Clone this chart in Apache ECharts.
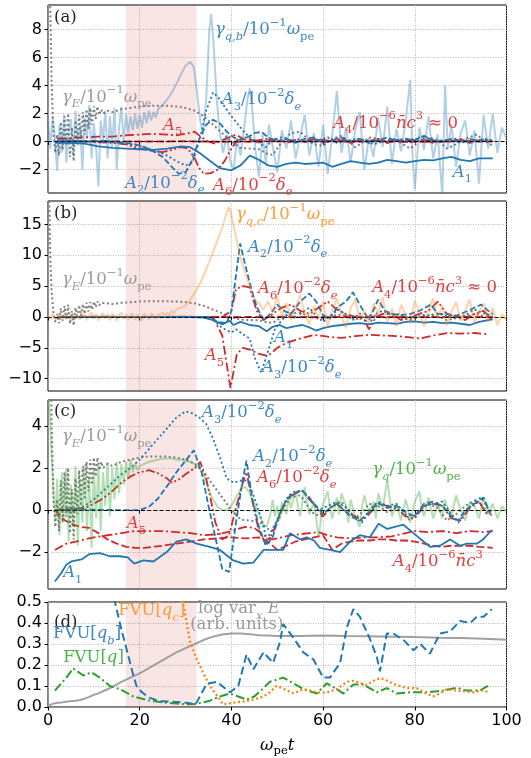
<!DOCTYPE html>
<html>
<head>
<meta charset="utf-8">
<script src="https://cdn.jsdelivr.net/npm/echarts@6/dist/echarts.min.js"></script>
<style>
html,body{margin:0;padding:0;background:#fff;}
#chart{width:531px;height:758px;}
</style>
</head>
<body>
<div id="chart"></div>
<script>
// ---------- shared ----------
const shadeStart = 17, shadeEnd = 32.4;
const xTicks = [0, 20, 40, 60, 80, 100];
const yTicksA = [-2, 0, 2, 4, 6, 8];
const yTicksB = [-10, -5, 0, 5, 10, 15];
const yTicksC = [-2, 0, 2, 4];
const yTicksD = [0, 0.1, 0.2, 0.3, 0.4, 0.5];

// gamma_E / 10^-1 w_pe (same curve in panels a, b, c)
const gammaE = [[0.1,30],[0.3,18],[0.5,9.5],[0.8,4],[1.2,0.5],[1.6,-0.8],[2,0.5],[2.4,-1.0],[2.8,1.4],[3.2,-0.6],[3.6,1.8],[4,-0.3],[4.4,2.0],[4.8,-1.1],[5.2,1.0],[5.6,-1.4],[6,1.5],[6.4,-0.2],[6.8,1.9],[7.2,0.2],[7.6,2.1],[8,0.5],[8.4,2.3],[8.8,0.9],[9.2,2.4],[9.6,1.2],[10,2.5],[10.4,1.6],[10.8,2.5],[11.2,1.9],[11.6,2.3],[12,2.0],[13,2.2],[14,2.1],[15,2.2],[16,2.3],[18,2.4],[20,2.5],[22,2.55],[24,2.55],[26,2.55],[28,2.5],[30,2.4],[32,2.2],[34,1.8],[36,1.2],[38,0.6],[40,0.0],[42,-0.45],[44,-0.5],[46,-0.55],[48,-0.9],[49,-0.95],[50,-0.5],[51,0.0],[53,0.6],[55,0.7],[57,0.1],[58,-0.2],[60,-0.3],[62,0.2],[64,0.4],[66,-0.1],[67,-0.4],[69,0.0],[70,0.3],[72,0.2],[74,-0.1],[76,0.1],[78,-0.3],[79,-0.5],[81,0.0],[83,0.3],[85,0.1],[87,-0.5],[89,-0.2],[91,0.2],[93.5,0.5],[95,0.1],[97,-0.3]];

// ---------- panel (a) ----------
const a_gammaQB = [[0,1.5],[0.5,-0.5],[1,1.8],[1.5,0.3],[2,-2.1],[2.5,1.2],[3,-0.8],[3.5,1.9],[4,-1.5],[4.5,0.8],[5,1.6],[5.5,-1.0],[6,2.2],[6.5,-0.3],[7,1.1],[7.5,-2.0],[8,1.7],[8.5,0.2],[9,2.6],[9.5,-1.2],[10,1.3],[10.5,-0.5],[11,-3.2],[11.5,1.5],[12,0.1],[12.5,2.2],[13,-1.2],[13.5,1.8],[14,-0.4],[14.5,2.4],[15,-2.0],[15.5,1.0],[16,2.5],[16.5,-0.2],[17,2.0],[17.5,0.6],[18,1.8],[18.5,0.8],[19,2.0],[19.5,0.9],[20,1.9],[20.5,1.0],[21,2.1],[21.5,1.3],[22,2.2],[22.5,1.5],[23,2.1],[23.5,1.7],[24,2.3],[25,2.6],[26,3.0],[27,3.5],[28,4.1],[29,4.8],[30,5.4],[31,5.7],[31.8,5.3],[32.5,3.5],[33.2,1.5],[33.8,0.5],[34.5,3.0],[35.2,8.0],[35.6,9.1],[36.2,6.5],[36.8,3.0],[37.5,0.5],[38.2,-0.8],[39,0.5],[39.8,-1.5],[40.5,-2.0],[41.2,0.2],[42,-1.0],[42.8,1.0],[43.5,3.0],[44,3.8],[44.5,2.5],[45.2,-0.5],[46,-2.5],[46.8,0.5],[47.5,-1.5],[48.2,1.2],[49,-0.3],[50,-2.2],[51,0.8],[52,-0.5],[53,1.5],[54,-1.2],[55,0.4],[56,1.9],[57,-1.0],[58,0.6],[59,-1.8],[60,1.2],[61,-2.3],[62,0.5],[63,3.6],[64,-0.8],[65,1.0],[66,-1.5],[67,0.8],[68,2.1],[69,-2.0],[70,0.3],[71,-1.1],[72,1.7],[73,-0.4],[74,2.5],[75,-1.6],[76,0.9],[77,-0.7],[78,1.4],[79,4.4],[79.5,-1.0],[80,-3.4],[81,1.0],[82,-0.6],[83,1.8],[84,-1.2],[85,0.5],[86,-3.9],[86.6,4.0],[87.2,-0.5],[88,1.2],[89,-1.8],[90,0.6],[91,1.5],[92,-1.0],[93,0.8],[94,-3.0],[95,1.9],[96,-0.5],[97,2.0],[98,-0.8],[99,1.0],[100,0.2]];
const a_A1 = [[1.5,-0.1],[4,-0.1],[8,-0.15],[11,-0.35],[14,-0.45],[17,-0.5],[20,-0.55],[23,-0.6],[26,-0.5],[29,-0.35],[31,-0.4],[33,-0.8],[35,-1.3],[37.5,-1.9],[40,-2.05],[42,-1.7],[44,-1.0],[46,-1.3],[48,-1.7],[50,-1.8],[52,-1.6],[54,-1.5],[56,-1.6],[58,-1.55],[60,-1.5],[62,-1.8],[64,-1.6],[66,-1.4],[68,-1.5],[70,-1.6],[72,-1.5],[74,-1.3],[76,-1.4],[78,-1.5],[80,-1.4],[82,-1.3],[84,-1.35],[86,-1.2],[88,-1.1],[90,-1.3],[92,-1.4],[94,-1.2],[97,-1.2]];
const a_A2 = [[2,0],[5,0.05],[8,0],[11,0.05],[14,0],[17,-0.1],[19,-0.2],[21,-0.4],[23,-0.7],[25,-1.1],[27,-1.8],[28.5,-2.3],[30,-2.2],[31.5,-1.3],[33,0.2],[34.5,1.2],[36,1.55],[37.5,1.3],[39,0.7],[40.5,0.3],[42,0.1],[43.5,0.3],[45,0.6],[46.5,0.7],[48,0.3],[50,0.0],[52,0.2],[54,-0.1],[56,0.2],[58,0.3],[60,-0.1],[62,0.1],[64,0.3],[66,0.0],[68,0.2],[70,-0.1],[72,0.1],[74,0.3],[76,0.0],[78,0.2],[80,0.1],[82,0.4],[84,0.1],[86,0.0],[88,0.2],[90,-0.1],[92,0.2],[94,0.0],[96,0.1]];
const a_A3 = [[2,0],[5,-0.05],[8,0.05],[11,0],[14,-0.05],[17,-0.15],[20,-0.3],[23,-0.6],[26,-1.0],[28,-1.4],[30,-1.7],[31.5,-1.5],[33,0.0],[34.5,2.2],[36,3.5],[37,3.2],[38.5,2.5],[40,1.8],[41.5,1.2],[43,0.6],[44.5,0.2],[46,-0.1],[47.5,-0.4],[49,0.1],[51,0.3],[53,0.0],[55,0.2],[57,-0.1],[59,0.1],[61,0.3],[63,-0.1],[65,0.0],[67,0.2],[69,0.1],[71,-0.2],[73,0.0],[75,0.2],[77,0.1],[79,-0.1],[81,0.3],[83,0.2],[85,0.0],[87,0.1],[89,0.2],[91,-0.1],[93,0.0],[95,0.2],[97,0.1]];
const a_A4 = [[2,0],[10,0.02],[20,0],[30,0.02],[40,-0.02],[50,0.02],[60,0],[70,0.02],[80,-0.02],[90,0.02],[97,0]];
const a_A5 = [[2,0.2],[5,0.25],[8,0.3],[11,0.35],[14,0.35],[17,0.45],[20,0.5],[23,0.55],[26,0.5],[28,0.45],[30,0.55],[32,0.7],[33.5,0.3],[35,0.0],[36.5,-0.15],[38,0.1],[39.5,0.3],[41,0.5],[42.5,0.2],[44,0.0],[46,0.1],[48,0.2],[50,0.0],[53,0.1],[56,0.0],[59,0.15],[62,0.05],[65,0.1],[68,0.0],[71,0.1],[74,0.05],[77,0.15],[80,0.05],[83,0.1],[86,0.0],[89,0.1],[92,0.05],[95,0.1],[97,0.05]];
const a_A6 = [[2,0],[5,0.05],[8,0],[11,-0.05],[14,-0.1],[17,-0.2],[19,-0.4],[21,-0.55],[23,-0.7],[25,-0.75],[27,-0.6],[29,-0.4],[30.5,-0.5],[32,-1.2],[33,-1.9],[34,-2.3],[35.5,-2.25],[37,-2.0],[38.5,-1.4],[40,-0.5],[41.5,0.2],[43,0.3],[44.5,0.1],[46,-0.1],[48,0.1],[50,0.2],[52,-0.1],[54,0.1],[56,0.0],[58,0.2],[60,-0.1],[62,0.1],[64,0.2],[66,-0.1],[68,0.1],[70,0.0],[72,0.2],[74,-0.1],[76,0.1],[78,0.0],[80,0.2],[82,0.1],[84,-0.1],[86,0.1],[88,0.0],[90,0.2],[92,-0.1],[94,0.1],[96,0.0]];

// ---------- panel (b) ----------
const b_gammaQC = [[0,0.3],[0.5,-0.3],[1,0.5],[1.5,-0.4],[2,0.2],[2.5,0.6],[3,-0.5],[3.5,0.3],[4,0.7],[4.5,-0.2],[5,0.4],[5.5,-0.6],[6,0.5],[6.5,0.1],[7,-0.4],[7.5,0.6],[8,0.2],[8.5,-0.5],[9,0.4],[9.5,0.7],[10,-0.3],[10.5,0.5],[11,-0.6],[11.5,0.3],[12,0.6],[12.5,-0.2],[13,0.4],[13.5,-0.5],[14,0.6],[14.5,0.1],[15,-0.6],[15.5,0.4],[16,0.7],[16.5,-0.3],[17,0.5],[17.5,-0.4],[18,0.3],[18.5,0.6],[19,-0.5],[19.5,0.4],[20,0.1],[20.5,-0.6],[21,0.5],[21.5,0.2],[22,-0.4],[22.5,0.6],[23,0.3],[23.5,-0.3],[24,0.5],[24.5,0.2],[25,0.8],[25.5,0.1],[26,0.7],[26.5,0.4],[27,1.0],[27.5,0.6],[28,1.2],[29,1.5],[30,1.8],[31,2.8],[32,3.9],[33,5.2],[34,6.8],[35,8.7],[36,10.5],[37,12.5],[38,14.5],[39,17.0],[39.5,17.8],[40,16.5],[41,13.0],[42,9.5],[43,7.2],[44,5.0],[45,3.0],[46,2.2],[47,1.2],[48,2.5],[49,0.8],[50,3.3],[51,0.2],[52,2.3],[53,-0.5],[54,1.5],[55,3.6],[56,0.5],[57,-1.2],[58,1.8],[59,-0.3],[60,2.5],[61,-1.5],[62,1.2],[63,3.0],[64,0.2],[65,-1.8],[66,1.5],[67,2.8],[68,-0.5],[69,1.0],[70,-1.2],[71,2.2],[72,0.5],[73,3.2],[74,-0.8],[75,1.4],[76,-1.5],[77,2.0],[78,0.3],[79,-1.0],[80,2.6],[81,0.8],[82,-1.6],[83,1.2],[84,3.0],[85,-0.2],[86,1.8],[87,-1.4],[88,0.9],[89,2.4],[90,-0.6],[91,1.1],[92,2.9],[93,-1.0],[94,0.7],[95,2.2],[96,-0.8],[97,1.5],[98,-1.3],[99,0.4],[100,-0.5]];
const b_A1 = [[2,0],[10,0],[20,0],[30,0],[34,-0.1],[36,-0.5],[38,-1.2],[39.6,-0.6],[40.4,-1.3],[42,-0.8],[44,-1.3],[46,-1.5],[47.7,-2.3],[49,-1.6],[50.5,-1.3],[52,-1.8],[54,-1.5],[55.5,-1.3],[57,-1.7],[58.5,-2.2],[60,-1.8],[62,-1.5],[64,-1.3],[66,-1.1],[68,-1.0],[70,-1.2],[72,-0.9],[74,-1.0],[76,-1.1],[78,-0.8],[80,-0.7],[82,-0.9],[84,-0.8],[86,-1.0],[88,-0.9],[90,-1.1],[92,-1.3],[94,-0.8],[96,-0.5],[97,-0.4]];
const b_A2 = [[2,0],[10,0],[20,0],[30,0],[35,0],[37,-0.8],[39,-1.0],[40,1.0],[41.9,11.9],[43,8.5],[44,5.5],[45.5,1.7],[47,-0.5],[48.5,0.5],[50,2.0],[51.5,1.0],[53,0.5],[55,2.5],[57,3.8],[58.5,2.5],[60,0.3],[61.5,-0.3],[63,1.5],[65,2.5],[66.5,4.0],[68,2.0],[70,-0.5],[72,2.8],[73.5,1.0],[75,0.5],[77,0.3],[79,0.5],[81,1.0],[83.5,2.0],[85,0.5],[87,0.5],[89,0.2],[91,0.8],[93,1.5],[94.5,2.0],[96,1.0],[97,0.5]];
const b_A3 = [[2,0],[20,0],[34,0],[36,-0.5],[38,-1.8],[40,-2.5],[41,-2.0],[42.5,-2.8],[44,-3.5],[45,-6.5],[46.5,-9.0],[48,-5.5],[49.5,-2.0],[51,-0.5],[52.5,0.5],[54,-0.3],[55.5,0.8],[57,1.5],[58.5,0.2],[60,-0.8],[62,0.5],[63.5,1.2],[65,0.3],[66.5,-0.5],[68,0.6],[70,-1.2],[71.5,0.5],[73,1.0],[75,0.3],[77,0.5],[79,-0.3],[81,0.4],[83,0.2],[85,0.6],[87,0.1],[89,-0.2],[91,0.3],[93,1.2],[95,0.6],[97,0.2]];
const b_A4 = [[2,0],[10,0.03],[20,0],[30,0.03],[40,-0.03],[50,0.03],[60,0],[70,0.03],[80,-0.03],[90,0.03],[97,0]];
const b_A5 = [[2,0],[10,0],[20,0],[30,0],[36,0],[38,-3.0],[39.8,-11.5],[41.2,-6.0],[42.5,-5.0],[44,-5.3],[46,-6.0],[48,-6.3],[50,-5.0],[52,-4.2],[55,-3.5],[58,-2.9],[61,-3.2],[64,-3.4],[67,-3.1],[70,-2.9],[73,-3.0],[76,-3.1],[79,-3.3],[81,-3.5],[84,-3.0],[87,-2.6],[90,-2.7],[93,-2.6],[96,-2.8]];
const b_A6 = [[2,0],[10,0],[20,0],[30,0],[38,0],[40,1.0],[41,4.5],[42.5,5.0],[44,4.8],[45.5,1.0],[47,-0.5],[49,0.5],[51,1.5],[53,2.0],[55,1.0],[57,0.5],[59,1.5],[61,2.5],[63,1.2],[65,0.5],[67,0.0],[69,-0.5],[70,-2.0],[71.5,0.0],[73,0.5],[75,0.5],[77,-0.5],[79,0.0],[81,0.5],[83,1.0],[85,2.5],[87,0.5],[89,0.0],[91,-0.5],[93,0.5],[95,1.0],[97,-0.5]];

// ---------- panel (c) ----------
const c_gammaQ = [[0,6],[0.4,4.5],[0.8,2.5],[1.2,0.8],[1.6,-0.5],[2,1.5],[2.5,-1.2],[3,1.8],[3.5,-0.5],[4,2.0],[4.5,-1.5],[5,1.2],[5.5,-0.8],[6,2.1],[6.5,-1.7],[7,1.5],[7.5,-0.6],[8,2.2],[8.5,-1.0],[9,1.6],[9.5,-1.8],[10,2.0],[10.5,-0.4],[11,2.2],[11.5,-1.0],[12,1.8],[12.5,0.2],[13,2.3],[13.5,-0.3],[14,2.0],[14.5,0.5],[15,2.3],[15.5,0.8],[16,2.2],[16.5,1.2],[17,2.3],[17.5,1.5],[18,2.4],[18.5,1.8],[19,2.2],[19.5,1.9],[20,2.1],[21,2.2],[22,2.3],[23,2.35],[24,2.4],[25,2.45],[26,2.45],[27,2.45],[28,2.4],[29,2.4],[30,2.35],[31,2.3],[32,2.2],[33,2.0],[34,1.6],[35,1.0],[36,0.5],[37,0.15],[38,0.0],[39,0.0],[40,0.2],[41,0.6],[42,1.0],[43,1.1],[44,0.8],[45,0.3],[46,-0.2],[47,-0.7],[47.7,-0.8],[48.5,-0.2],[49,0.5],[49.5,-0.3],[50,0.2],[50.5,-0.5],[51,0.4],[52,-0.2],[52.5,0.6],[53,0.1],[54,0.9],[54.5,0.2],[55,-0.3],[56,1.1],[56.5,0.3],[57,-0.2],[58,0.4],[59,-1.3],[59.5,-0.5],[60,0.3],[61,0.9],[61.5,0.1],[62,-0.4],[63,0.6],[63.5,-0.2],[64,0.8],[65,0.2],[65.5,-0.6],[66,0.5],[67,-0.3],[68,-0.8],[68.5,0.2],[69,0.7],[70,-0.2],[71,0.4],[71.5,-0.4],[72,0.8],[73,0.1],[74,1.4],[74.5,0.6],[75,-0.3],[76,0.3],[77,-0.5],[78,0.5],[78.5,0.1],[79,-0.6],[80,0.4],[81,0.9],[81.5,0.1],[82,-0.3],[83,0.6],[84,-0.4],[85,0.3],[86,-0.4],[86.5,0.5],[87,0.2],[88,-0.3],[89,0.7],[90,0.0],[91,-0.5],[92,0.4],[93,0.2],[94,-0.4],[95,0.6],[96,-0.2],[97,0.3],[98,-0.4],[99,0.2],[100,-0.1]];
const c_A1 = [[1.5,-3.4],[2.9,-3.0],[4,-2.6],[5.1,-2.45],[7.3,-2.35],[9,-2.1],[11.3,-2.05],[13.5,-2.2],[15.7,-2.2],[17.4,-2.25],[18.8,-2.55],[20.8,-2.4],[23,-2.45],[25.9,-2.0],[28,-1.5],[30.2,-1.4],[32.4,-1.6],[35.3,-1.75],[37.5,-1.9],[40.4,-2.4],[42.6,-2.55],[44.8,-2.5],[47,-1.9],[48.4,-1.9],[51.3,-1.9],[52.8,-1.1],[55,-1.4],[56.4,-1.3],[58,-1.45],[59.3,-1.8],[61.5,-1.9],[63.7,-2.0],[65.9,-1.5],[68,-1.2],[70.2,-1.3],[72.1,-0.65],[74,-0.9],[77.5,-0.7],[79.7,-1.1],[83.3,-1.75],[85.5,-1.7],[87.7,-1.4],[89.9,-1.7],[91.3,-1.6],[93.5,-1.6],[94.9,-1.4],[96.8,-0.95]];
const c_A2 = [[1.5,0],[5,0],[10,0.02],[15,0],[20,0],[22,0.15],[24,0.55],[26,1.15],[28,1.8],[30,2.35],[31.8,2.85],[33.5,1.8],[35,0.2],[36.5,-1.3],[38,-2.8],[39.5,-2.95],[41,-0.6],[42.5,1.5],[43.3,2.35],[44.5,0.6],[46,-0.8],[47.5,-1.7],[49,-1.3],[50.5,-0.2],[52,0.5],[53.5,0.8],[55.5,0.95],[57,0.5],[58.5,0.2],[60,-0.2],[61.5,0.1],[63,0.3],[64.5,0.0],[66,-0.3],[68,-0.5],[70,-0.1],[72,0.35],[74,0.1],[76,0.2],[78,-0.1],[80,-0.3],[82,0.3],[84,0.4],[86,0.2],[88,-0.3],[89.5,-0.5],[91,0.0],[93,0.3],[95,0.6],[96.5,-0.2]];
const c_A3 = [[1.5,0],[4,0],[6,0.05],[8,0.2],[10,0.5],[12,0.9],[14,1.3],[16,1.7],[18,2.0],[20,2.4],[22,2.9],[24,3.4],[26,3.9],[28,4.4],[30,4.7],[31.5,4.6],[33,4.4],[34.5,4.1],[36,3.4],[37.5,2.5],[39,1.5],[40.5,1.3],[42,1.4],[43.5,1.4],[45,0.6],[46.5,-0.4],[47.7,-1.4],[49.5,-0.7],[51,0.1],[52.5,0.7],[54,0.9],[55.5,0.9],[57,0.5],[59,0.0],[61,0.2],[63,0.4],[65,0.1],[67,-0.4],[68.5,-0.6],[70,0.0],[72,0.4],[74,0.2],[76,0.3],[78,-0.2],[80,-0.3],[82,0.2],[84,0.3],[86,0.4],[88,-0.2],[89.5,-0.6],[91,-0.1],[93,0.4],[94.5,0.6],[96.5,-0.1]];
const c_A4 = [[1.5,0],[3,-0.4],[5,-0.65],[7,-0.8],[9,-0.85],[11,-1.1],[13,-1.4],[15,-1.6],[17,-1.75],[19,-1.8],[21,-1.8],[23,-1.75],[25,-1.7],[28,-1.6],[31,-1.5],[34,-1.4],[37,-1.35],[40,-1.3],[43,-1.35],[46,-1.3],[48,-1.5],[50,-1.9],[52,-1.7],[54,-1.5],[56,-1.4],[58,-1.3],[60,-1.2],[62,-1.9],[64,-1.6],[66,-1.5],[68,-1.45],[70,-1.45],[72,-1.4],[74,-1.4],[76,-1.45],[78,-1.45],[80,-1.5],[82,-1.6],[84,-1.7],[86,-1.75],[88,-1.7],[90,-1.7],[92,-1.7],[94,-1.75],[97,-1.8]];
const c_A5 = [[1.5,-1.9],[4,-1.6],[7,-1.45],[10,-1.3],[13,-1.2],[16,-1.1],[19,-1.0],[22,-1.0],[25,-1.0],[28,-1.05],[31,-1.1],[34,-1.2],[37,-1.15],[40,-1.0],[43,-0.8],[45,-0.85],[47,-1.2],[49,-1.4],[51,-1.3],[53,-1.2],[55,-1.15],[57,-1.1],[59,-1.05],[61,-1.2],[63,-1.3],[66,-1.35],[69,-1.3],[72,-1.3],[75,-1.25],[78,-1.1],[80,-1.0],[83,-1.05],[86,-1.0],[89,-1.1],[92,-1.0],[95,-1.05],[97,-1.0]];
const c_A6 = [[1.5,0],[4,0.05],[6,0.05],[8,0.1],[10,0.3],[12,0.55],[14,0.9],[16,1.3],[18,1.6],[20,1.8],[22,1.9],[24,1.75],[26,1.5],[27,1.3],[28.5,1.45],[30,1.7],[32,2.0],[33.2,2.3],[34.5,1.5],[35.5,0.5],[36.5,-0.6],[38,-1.4],[39.5,-1.2],[41,0.1],[42.5,1.3],[43.3,1.8],[44.5,0.5],[46,-1.0],[47.5,-1.6],[49,-1.1],[50.5,-0.3],[52,0.5],[54,0.8],[55.5,0.9],[57,0.6],[58.5,0.1],[60,-0.3],[61.5,0.1],[63,0.3],[65,-0.1],[67,-0.3],[68.5,-0.5],[70,-0.2],[72,0.3],[74,0.2],[76,0.1],[78,-0.3],[80,-0.4],[82,0.2],[84,0.3],[86,0.2],[88,-0.4],[90,-0.5],[92,0.1],[94,0.4],[96,-0.3]];

// ---------- panel (d) ----------
const d_logVarE = [[0,0.005],[1,0.015],[2,0.02],[3,0.022],[4,0.025],[5,0.028],[6,0.03],[7,0.033],[8,0.04],[9,0.048],[10,0.058],[11,0.065],[12,0.075],[14,0.095],[16,0.12],[18,0.14],[20,0.16],[22,0.185],[24,0.21],[26,0.235],[28,0.26],[30,0.28],[32,0.3],[34,0.32],[36,0.335],[38,0.345],[40,0.35],[42,0.35],[44,0.347],[46,0.342],[48,0.34],[50,0.338],[55,0.338],[60,0.34],[65,0.338],[70,0.337],[75,0.335],[80,0.333],[85,0.33],[90,0.328],[95,0.325],[100,0.32]];
const d_fvuQb = [[2,1.2],[6,0.95],[10,0.85],[13,0.65],[14.6,0.5],[16,0.37],[17.2,0.27],[18.5,0.16],[19.3,0.1],[20.5,0.07],[22,0.045],[24.4,0.028],[27,0.025],[30.2,0.02],[32.2,0.013],[34.6,0.11],[36.8,0.12],[39.7,0.07],[41.5,0.1],[43.3,0.25],[44.8,0.18],[47,0.26],[49.1,0.21],[50.6,0.31],[51.3,0.395],[53.5,0.33],[55.7,0.26],[57.9,0.226],[60,0.14],[61.5,0.14],[63.7,0.21],[65.2,0.38],[66.6,0.466],[68,0.43],[70.2,0.325],[71.7,0.24],[72.4,0.17],[73.9,0.35],[75.3,0.35],[77.5,0.32],[79.7,0.27],[81.2,0.3],[83.3,0.254],[85.5,0.35],[87.7,0.36],[89.9,0.41],[92.1,0.4],[93.5,0.43],[95,0.43],[96.8,0.466]];
const d_fvuQc = [[2,1.5],[10,1.2],[20,1.0],[28,0.7],[29.5,0.49],[31,0.31],[32.4,0.23],[33.9,0.16],[35.3,0.1],[36.8,0.056],[38.2,0.012],[40.4,0.02],[43.3,0.028],[45.5,0.04],[47,0.05],[48.4,0.07],[49.8,0.1],[51,0.09],[52,0.08],[53.5,0.065],[55.7,0.085],[57,0.08],[58.6,0.07],[60.8,0.068],[63,0.085],[65.2,0.12],[66.6,0.125],[68,0.115],[69.5,0.105],[71,0.125],[72.4,0.138],[74,0.125],[75.3,0.11],[76.8,0.1],[78.2,0.09],[80.4,0.09],[82,0.07],[84,0.05],[85.5,0.065],[87,0.085],[89,0.078],[91,0.075],[92.8,0.07],[94.5,0.08],[96.4,0.07]];
const d_fvuQ = [[1.5,0.078],[4,0.14],[5.5,0.184],[7.7,0.15],[9.5,0.165],[11.3,0.14],[13.5,0.1],[15.7,0.085],[18.6,0.05],[22.3,0.03],[26,0.02],[30.2,0.013],[32.4,0.015],[35.3,0.03],[37.5,0.05],[39.7,0.064],[41.5,0.05],[43.3,0.035],[45,0.05],[46.5,0.08],[48.4,0.12],[51.3,0.14],[53.5,0.113],[55.7,0.085],[58.6,0.064],[60.8,0.113],[63,0.085],[64.4,0.064],[66.6,0.107],[68.8,0.107],[71.7,0.07],[73.9,0.09],[76,0.064],[79,0.07],[82.6,0.07],[86.2,0.078],[89.2,0.092],[91.3,0.078],[94.2,0.078],[96.4,0.107]];

// ---------- styling ----------
const BLUE = '#1f77b4', RED = '#d62728', GREY = '#7f7f7f', ORANGE = '#ff7f0e', GREEN = '#2ca02c';
const DASH = [6, 2.6], DOT = [2, 2.6], DASHDOT = [9, 3, 2, 3], DASHDOTDOT = [9, 2.5, 2, 2.5, 2, 2.5];
const SERIF = '"DejaVu Serif", serif';
const SANS = '"DejaVu Sans", sans-serif';

const layout = [
  {top: 5,   height: 188, min: -3.67, max: 9.74, ticks: yTicksA},
  {top: 201, height: 190, min: -12.0, max: 18.8, ticks: yTicksB},
  {top: 400, height: 189, min: -3.76, max: 5.24, ticks: yTicksC},
  {top: 602, height: 118, min: 0,     max: 0.5,  ticks: yTicksD}
];

function line(gi, data, color, dash, width, extra) {
  return Object.assign({
    type: 'line', xAxisIndex: gi, yAxisIndex: gi, data: data,
    showSymbol: false, symbol: 'none', silent: true, animation: false,
    lineStyle: {color: color, width: width, type: dash || 'solid'}
  }, extra || {});
}
function faint(gi, data, color) {
  return line(gi, data, color, 'solid', 2, {z: 5, lineStyle: {color: color, width: 2, opacity: 0.35}});
}
function shade(gi) {
  return {type: 'line', xAxisIndex: gi, yAxisIndex: gi, data: [], silent: true, z: 0,
    markArea: {silent: true, itemStyle: {color: 'rgba(214,39,40,0.12)'},
      data: [[{xAxis: shadeStart}, {xAxis: shadeEnd}]]}};
}
function zeroLine(gi) {
  return {type: 'line', xAxisIndex: gi, yAxisIndex: gi, data: [], silent: true, z: 4,
    markLine: {silent: true, symbol: 'none', label: {show: false}, animation: false,
      lineStyle: {color: '#000', type: [4, 2.2], width: 1.2}, data: [{yAxis: 0}]}};
}

const grids = layout.map(l => ({left: 48, right: 24.5, top: l.top, height: l.height,
  show: true, borderColor: '#000', borderWidth: 1}));

const xAxes = layout.map((l, i) => ({
  type: 'value', gridIndex: i, min: 0, max: 100, interval: 20,
  axisLine: {show: false},
  axisTick: {show: true, inside: false, length: 3.5, lineStyle: {color: '#000', width: 1}},
  axisLabel: {show: i === 3, color: '#000', fontFamily: SANS, fontSize: 16, margin: 6},
  splitLine: {show: true, lineStyle: {color: '#b0b0b0', type: [1, 1.5], width: 0.9}},
  name: i === 3 ? '{i|ω}{rs|pe}{i|t}' : '',
  nameLocation: 'middle', nameGap: 28,
  nameTextStyle: {color: '#000', fontFamily: SERIF, fontSize: 16, rich: {
    i: {fontFamily: SERIF, fontStyle: 'italic', fontSize: 16.5, lineHeight: 22, verticalAlign: 'middle'},
    rs: {fontFamily: SERIF, fontSize: 11.5, lineHeight: 12, verticalAlign: 'bottom'}
  }}
}));

const yAxes = layout.map((l, i) => ({
  type: 'value', gridIndex: i, min: l.min, max: l.max,
  axisLine: {show: false},
  axisTick: {show: true, length: 3.5, customValues: l.ticks, lineStyle: {color: '#000', width: 1}},
  axisLabel: {color: '#000', fontFamily: SANS, fontSize: 16, margin: 6, customValues: l.ticks,
    formatter: v => i === 3 ? v.toFixed(1) : String(v).replace('-', '\u2212')},
  splitLine: {show: true, lineStyle: {color: '#b0b0b0', type: [1, 1.5], width: 0.9}}
}));

const series = [
  shade(0), shade(1), shade(2), shade(3),
  // (a)
  line(0, gammaE, GREY, DOT, 2, {z: 2}),
  line(0, a_A4, RED, [8, 3], 2, {z: 2}),
  line(0, a_A5, RED, DASHDOT, 1.8, {z: 2}),
  line(0, a_A6, RED, DASHDOTDOT, 1.8, {z: 2}),
  line(0, a_A1, BLUE, 'solid', 1.8, {z: 2}),
  line(0, a_A2, BLUE, DASH, 1.8, {z: 2}),
  line(0, a_A3, BLUE, DOT, 1.8, {z: 2}),
  zeroLine(0),
  faint(0, a_gammaQB, BLUE),
  // (b)
  line(1, gammaE, GREY, DOT, 2, {z: 2}),
  line(1, b_A4, RED, [8, 3], 2, {z: 2}),
  line(1, b_A5, RED, DASHDOT, 1.8, {z: 2}),
  line(1, b_A6, RED, DASHDOTDOT, 1.8, {z: 2}),
  line(1, b_A1, BLUE, 'solid', 1.8, {z: 2}),
  line(1, b_A2, BLUE, DASH, 1.8, {z: 2}),
  line(1, b_A3, BLUE, DOT, 1.8, {z: 2}),
  zeroLine(1),
  faint(1, b_gammaQC, ORANGE),
  // (c)
  line(2, gammaE, GREY, DOT, 2, {z: 2}),
  line(2, c_A4, RED, [8, 3], 1.8, {z: 2}),
  line(2, c_A5, RED, DASHDOT, 1.8, {z: 2}),
  line(2, c_A6, RED, DASHDOTDOT, 1.8, {z: 2}),
  line(2, c_A1, BLUE, 'solid', 1.8, {z: 2}),
  line(2, c_A2, BLUE, DASH, 1.8, {z: 2}),
  line(2, c_A3, BLUE, DOT, 1.8, {z: 2}),
  zeroLine(2),
  faint(2, c_gammaQ, GREEN),
  // (d)
  line(3, d_logVarE, '#a0a0a0', 'solid', 2, {z: 2}),
  line(3, d_fvuQ, GREEN, DASHDOT, 2, {z: 3}),
  line(3, d_fvuQc, ORANGE, DOT, 2.2, {z: 3}),
  line(3, d_fvuQb, BLUE, [8, 4], 2, {z: 3})
];

const chart = echarts.init(document.getElementById('chart'), null, {renderer: 'canvas'});
chart.setOption({animation: false, grid: grids, xAxis: xAxes, yAxis: yAxes, series: series});

// ---------- annotations (data coordinates) ----------
const rich = {
  i:  {fontFamily: SERIF, fontStyle: 'italic', fontSize: 16.5, lineHeight: 26, verticalAlign: 'middle'},
  r:  {fontFamily: SERIF, fontSize: 16.5, lineHeight: 26, verticalAlign: 'middle'},
  s:  {fontFamily: SERIF, fontStyle: 'italic', fontSize: 11.5, lineHeight: 13, verticalAlign: 'bottom'},
  rs: {fontFamily: SERIF, fontSize: 11.5, lineHeight: 13, verticalAlign: 'bottom'},
  p:  {fontFamily: SERIF, fontSize: 11.5, lineHeight: 13, verticalAlign: 'top'}
};
const T_gammaE = '{i|γ}{s|E}{r|/10}{p|−1}{i|ω}{rs|pe}';
const T_A = (k, e) => '{i|A}{rs|' + k + '}{r|/10}{p|−' + e + '}{i|δ}{s|e}';
const T_A4 = '{i|A}{rs|4}{r|/10}{p|−6}{i|n̄c}{p|3}';
const LBLUE = '#3a87c4', LRED = '#e0403f', LGREY = '#9a9a9a', LORANGE = '#ff9933', LGREEN = '#4cb34c';
const notes = [
  [0, 1.3, 8.8, '{r|(a)}', '#222'],
  [0, 36.4, 7.95, '{i|γ}{s|q,b}{r|/10}{p|−1}{i|ω}{rs|pe}', LBLUE],
  [0, 3.05, 3.16, T_gammaE, LGREY],
  [0, 37.9, 2.95, T_A(3, 2), LBLUE],
  [0, 25.1, 1.16, '{i|A}{rs|5}', LRED],
  [0, 62.2, 1.3, T_A4 + '{r| ≈ 0}', LRED],
  [0, 16.8, -2.98, T_A(2, 2), LBLUE],
  [0, 36.0, -3.12, T_A(6, 2), LRED],
  [0, 88.3, -2.19, '{i|A}{rs|1}', LBLUE],
  [1, 1.3, 16.8, '{r|(b)}', '#222'],
  [1, 41.0, 16.5, '{i|γ}{s|q,c}{r|/10}{p|−1}{i|ω}{rs|pe}', LORANGE],
  [1, 43.6, 11.3, T_A(2, 2), LBLUE],
  [1, 3.05, 6.0, T_gammaE, LGREY],
  [1, 45.8, 4.5, T_A(6, 2), LRED],
  [1, 70.7, 4.7, T_A4 + '{r| ≈ 0}', LRED],
  [1, 49.3, -3.4, '{i|A}{rs|1}', LBLUE],
  [1, 34.2, -6.3, '{i|A}{rs|5}', LRED],
  [1, 46.7, -8.25, T_A(3, 2), LBLUE],
  [2, 1.3, 4.67, '{r|(c)}', '#222'],
  [2, 33.6, 4.62, T_A(3, 2), LBLUE],
  [2, 3.05, 3.48, T_gammaE, LGREY],
  [2, 44.7, 2.52, T_A(2, 2), LBLUE],
  [2, 45.6, 1.52, T_A(6, 2), LRED],
  [2, 70.7, 1.9, '{i|γ}{s|q}{r|/10}{p|−1}{i|ω}{rs|pe}', LGREEN],
  [2, 17.2, -0.67, '{i|A}{rs|5}', LRED],
  [2, 3.3, -3.0, '{i|A}{rs|1}', LBLUE],
  [2, 75.2, -2.48, T_A4, LRED],
  [3, 1.3, 0.403, '{r|(d)}', '#222'],
  [3, 15.3, 0.458, '{r|FVU[}{i|q}{s|c}{r|]}', LORANGE],
  [3, 32.7, 0.466, '{r|log var}{s|x}{i| E}', LGREY],
  [3, 31.0, 0.39, '{r|(arb. units)}', LGREY],
  [3, 1.1, 0.347, '{r|FVU[}{i|q}{s|b}{r|]}', LBLUE],
  [3, 3.3, 0.233, '{r|FVU[}{i|q}{r|]}', LGREEN]
];
const graphics = notes.map(n => {
  const p = chart.convertToPixel({xAxisIndex: n[0], yAxisIndex: n[0]}, [n[1], n[2]]);
  return {type: 'text', x: p[0], y: p[1], z: 20, silent: true,
    style: {text: n[3], fill: n[4], rich: rich, font: '16.5px ' + SERIF,
      align: 'left', verticalAlign: 'middle'}};
});
chart.setOption({graphic: graphics});
</script>
</body>
</html>
